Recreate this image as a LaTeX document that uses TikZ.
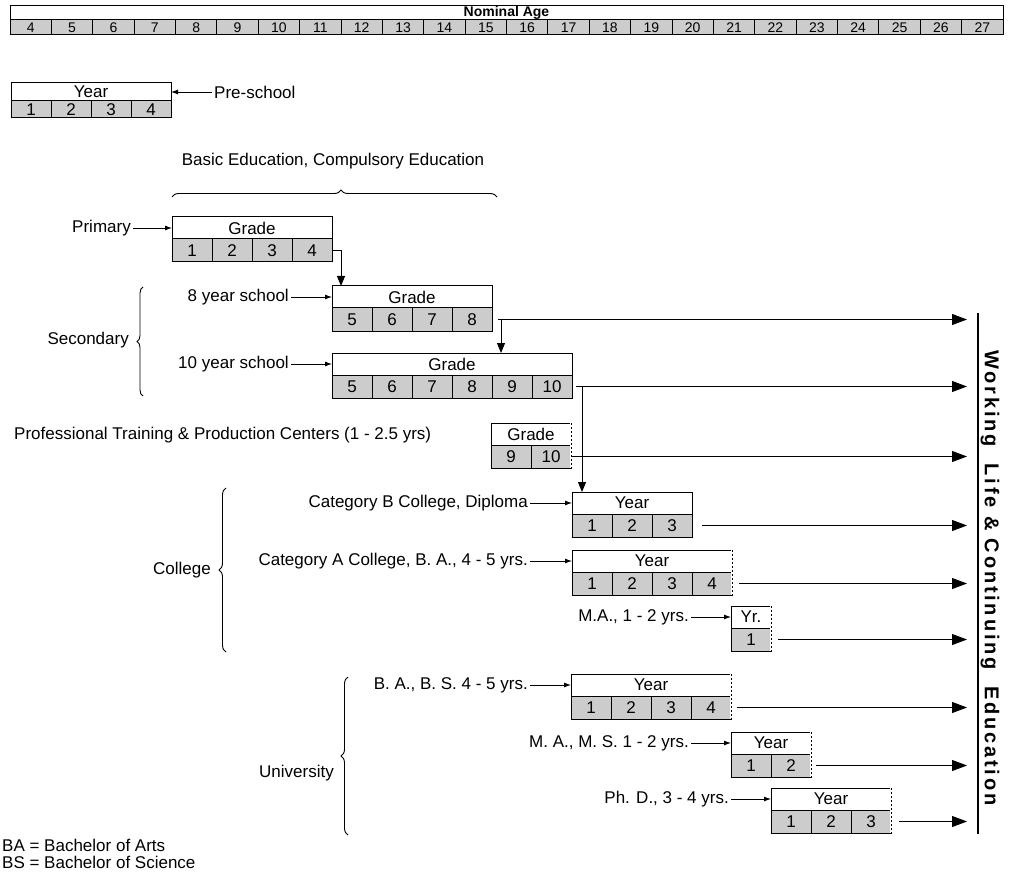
\documentclass[tikz,border=0pt]{standalone}
\usepackage{fontspec}
\setmainfont{Liberation Sans}
\usetikzlibrary{arrows.meta, positioning, calc, decorations.pathreplacing}
\tikzset{
	headbox/.style={rectangle, draw, fill=white, line width=1pt, minimum height=22pt, inner sep=0pt, outer sep=0pt, font=\fontsize{17}{20}\selectfont},
	cellbox/.style={rectangle, draw, fill=gray!40, line width=1pt, minimum width=40pt, minimum height=23pt, inner sep=0pt, outer sep=0pt, font=\fontsize{17}{20}\selectfont},
	txt/.style={font=\fontsize{17}{20}\selectfont, inner sep=2pt},
	feed/.style={draw, line width=0.9pt, -{Latex[length=7pt, width=5pt]}},
	drop/.style={draw, line width=0.9pt, -{Triangle[length=10pt, width=8pt]}},
	exit/.style={draw, line width=0.9pt, -{Triangle[length=15pt, width=11pt]}},
	curly/.style={decorate, decoration={brace, amplitude=7pt}, line width=0.9pt}
}
% box with a header and a row of numbered cells
\newcommand{\eduBox}[5]{%
	\node[headbox, minimum width=#5*40pt, anchor=north west] (#1) at #2 {#3};
	\foreach \k in {1,...,#5}{%
		\pgfmathtruncatemacro{\cellnum}{#4+\k-1}%
		\node[cellbox, anchor=north west] (#1-\k) at ($(#1.south west)+({(\k-1)*40},0)$) {\cellnum};
	}%
}
% dashed right side of a box
\newcommand{\openSide}[2]{%
	\draw[white, line width=1.6pt] (#1.north east) -- (#2.south east);
	\draw[line width=1pt, dash pattern=on 2pt off 2pt] (#1.north east) -- (#2.south east);
}

\begin{document}
\begin{tikzpicture}[x=1pt, y=-1pt]
	\useasboundingbox (0,0) rectangle (1011,874);
	
	% Nominal age scale
	\node[headbox, minimum width=993pt, minimum height=14pt, anchor=north west, font=\fontsize{14}{16}\selectfont\bfseries] (nominal) at (10,6) {Nominal Age};
	\foreach \age [count=\i from 0] in {4,...,27}
		\node[cellbox, minimum width=41.375pt, minimum height=15pt, anchor=north west, font=\fontsize{14}{16}\selectfont] (age-\age) at ($(nominal.south west)+(\i*41.375,0)$) {\age};
	
	% Pre-school
	\begin{scope}[headbox/.append style={minimum height=18pt}, cellbox/.append style={minimum height=17pt}]
		\eduBox{pre}{(11,83)}{Year}{1}{4}
	\end{scope}
	\node[txt, anchor=west] (pre_lbl) at (212,92) {Pre-school};
	\draw[feed] (pre_lbl.west) -- (pre.east);
	
	% Basic education
	\node[txt] (basic_lbl) at (333,161) {Basic Education, Compulsory Education};
	\coordinate (basic_l) at (172,197);
	\coordinate (basic_r) at (497,197);
	\draw[curly, decoration={aspect=0.52}] (basic_l) -- (basic_r);
	
	\eduBox{prim}{(172,217)}{Grade}{1}{4}
	\node[txt, anchor=east] (prim_lbl) at (133,228) {Primary};
	\draw[feed] (prim_lbl.east) -- (prim.west);
	
	% Secondary
	\eduBox{sec8}{(332,286)}{Grade}{5}{4}
	\eduBox{sec10}{(332,353)}{Grade}{5}{6}
	\node[txt, anchor=east] (sec8_lbl) at (291,297) {8 year school};
	\node[txt, anchor=east] (sec10_lbl) at (291,364) {10 year school};
	\draw[feed] (sec8_lbl.east) -- (sec8.west);
	\draw[feed] (sec10_lbl.east) -- (sec10.west);
	\coordinate (sec_bot) at (143,396);
	\coordinate (sec_top) at (143,287);
	\draw[curly, decoration={amplitude=6pt}] (sec_bot) -- (sec_top);
	\node[txt, anchor=east] (sec_lbl) at (131,340) {Secondary};
	
	% Professional training
	\node[txt, anchor=west] (ptpc_lbl) at (12,435) {Professional Training \& Production Centers (1 - 2.5 yrs)};
	\eduBox{ptpc}{(491,423)}{Grade}{9}{2}
	\openSide{ptpc}{ptpc-2}
	
	% College
	\eduBox{catb}{(572,492)}{Year}{1}{3}
	\eduBox{cata}{(572,550)}{Year}{1}{4}
	\openSide{cata}{cata-4}
	\eduBox{mac}{(731,606)}{Yr.}{1}{1}
	\openSide{mac}{mac-1}
	\node[txt, anchor=east] (catb_lbl) at (530,503) {Category B College, Diploma};
	\node[txt, anchor=east] (cata_lbl) at (530,561) {Category A College, B. A., 4 - 5 yrs.};
	\node[txt, anchor=east] (mac_lbl) at (691,617) {M.A., 1 - 2 yrs.};
	\draw[feed] (catb_lbl.east) -- (catb.west);
	\draw[feed] (cata_lbl.east) -- (cata.west);
	\draw[feed] (mac_lbl.east) -- (mac.west);
	\coordinate (col_bot) at (226,652);
	\coordinate (col_top) at (226,488);
	\draw[curly] (col_bot) -- (col_top);
	\node[txt, anchor=east] (col_lbl) at (213,570) {College};
	
	% University
	\eduBox{babs}{(571,674)}{Year}{1}{4}
	\openSide{babs}{babs-4}
	\eduBox{mams}{(731,732)}{Year}{1}{2}
	\openSide{mams}{mams-2}
	\eduBox{phd}{(771,788)}{Year}{1}{3}
	\openSide{phd}{phd-3}
	\node[txt, anchor=east] (babs_lbl) at (530,685) {B. A., B. S. 4 - 5 yrs.};
	\node[txt, anchor=east] (mams_lbl) at (691,743) {M. A., M. S. 1 - 2 yrs.};
	\node[txt, anchor=east] (phd_lbl) at (731,799) {Ph. D., 3 - 4 yrs.};
	\draw[feed] (babs_lbl.east) -- (babs.west);
	\draw[feed] (mams_lbl.east) -- (mams.west);
	\draw[feed] (phd_lbl.east) -- (phd.west);
	\coordinate (uni_bot) at (348,835);
	\coordinate (uni_top) at (348,677);
	\draw[curly] (uni_bot) -- (uni_top);
	\node[txt, anchor=east] (uni_lbl) at (336,773) {University};
	
	% Paths between the schools
	\coordinate (split8) at ([xshift=9pt]sec8-4.east);
	\coordinate (split10) at ([xshift=10pt]sec10-6.east);
	\draw[drop] (prim-4.east) -| ([xshift=9pt]sec8.north west);
	\draw[drop] (split8) -- (split8 |- sec10.north);
	\draw[drop] (split10) -- (split10 |- catb.north);
	
	% Working life
	\coordinate (exit_x) at (967,0);
	\coordinate (wl_top) at (978,313);
	\coordinate (wl_bot) at (978,834);
	\draw[line width=1.6pt] (wl_top) -- (wl_bot);
	\node[rotate=-90, font=\fontsize{20}{24}\selectfont\bfseries\addfontfeatures{LetterSpace=14}] (wl_text) at (990,578) {Working\ \ Life \& Continuing\ \ Education};
	
	\draw[exit] ([xshift=6pt]sec8-4.east) -- (sec8-4.east -| exit_x);
	\draw[exit] ([xshift=4pt]sec10-6.east) -- (sec10-6.east -| exit_x);
	\draw[exit] (ptpc-2.east) -- (ptpc-2.east -| exit_x);
	\draw[exit] ([xshift=10pt]catb-3.east) -- (catb-3.east -| exit_x);
	\draw[exit] ([xshift=7pt]cata-4.east) -- (cata-4.east -| exit_x);
	\draw[exit] ([xshift=7pt]mac-1.east) -- (mac-1.east -| exit_x);
	\draw[exit] ([xshift=6pt]babs-4.east) -- (babs-4.east -| exit_x);
	\draw[exit] ([xshift=5pt]mams-2.east) -- (mams-2.east -| exit_x);
	\draw[exit] ([xshift=8pt]phd-3.east) -- (phd-3.east -| exit_x);
	
	% Notes
	\node[txt, anchor=west] (note_ba) at (0,845) {BA = Bachelor of Arts};
	\node[txt, anchor=west] (note_bs) at (0,862) {BS = Bachelor of Science};
	
\end{tikzpicture}
\end{document}
